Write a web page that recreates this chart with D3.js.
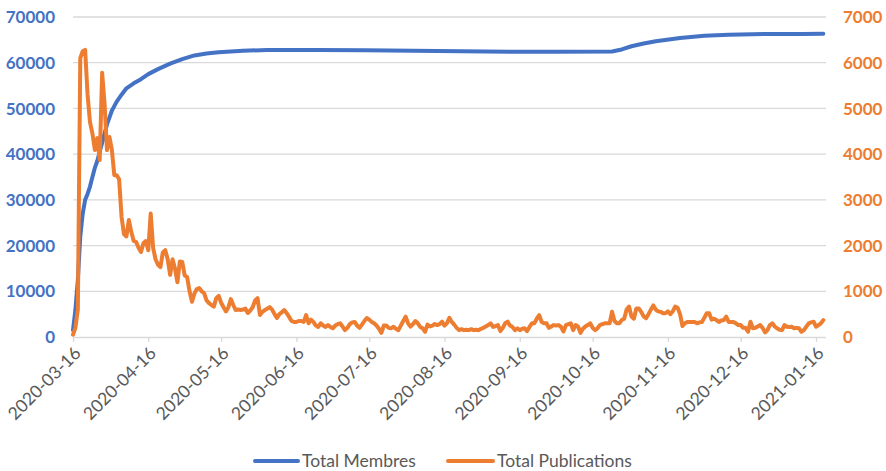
<!DOCTYPE html>
<html><head><meta charset="utf-8">
<script src="https://cdn.jsdelivr.net/npm/d3@7"></script>
<style>
body{margin:0;background:#fff}
svg{display:block}
text{font-family:Lato,"Open Sans",sans-serif}
</style>
</head><body>
<svg id="chart" width="886" height="471"></svg>
<script>
// ---- data ----
const pubStart = "2020-03-16"; // daily values from this date
const publications = [
  50, 200, 600, 6100, 6250, 6280, 5300, 4700, 4450, 4090,
  4350, 3870, 5780, 5100, 4090, 4375, 4100, 3540, 3540, 3450,
  2625, 2250, 2200, 2560, 2300, 2100, 2080, 1950, 1860, 2050,
  2100, 1900, 2700, 1950, 1700, 1580, 1530, 1850, 1900, 1700,
  1360, 1700, 1500, 1200, 1650, 1640, 1350, 1310, 1000, 770,
  950, 1050, 1070, 1000, 960, 800, 740, 700, 665, 850,
  900, 750, 650, 560, 650, 830, 700, 590, 600, 590,
  600, 620, 525, 580, 650, 800, 850, 480, 550, 590,
  620, 655, 600, 500, 415, 500, 540, 590, 520, 440,
  350, 330, 330, 350, 350, 330, 480, 300, 380, 330,
  250, 220, 300, 250, 220, 260, 220, 190, 250, 280,
  300, 230, 150, 200, 280, 320, 330, 250, 200, 270,
  350, 415, 380, 330, 300, 250, 180, 90, 250, 250,
  200, 190, 225, 180, 150, 250, 350, 445, 300, 225,
  280, 350, 300, 220, 190, 115, 270, 230, 250, 285,
  260, 280, 335, 250, 300, 420, 330, 270, 200, 150,
  170, 150, 160, 150, 170, 150, 160, 150, 180, 200,
  230, 260, 300, 220, 240, 260, 130, 200, 300, 335,
  250, 220, 150, 190, 150, 180, 190, 130, 220, 300,
  300, 400, 480, 330, 300, 300, 200, 230, 260, 250,
  260, 220, 120, 260, 280, 300, 150, 260, 230, 90,
  180, 230, 260, 300, 200, 150, 190, 260, 280, 300,
  300, 300, 555, 350, 300, 300, 370, 400, 600, 665,
  450, 400, 625, 625, 550, 450, 410, 500, 600, 690,
  600, 560, 550, 520, 520, 560, 500, 560, 665, 640,
  500, 240, 300, 330, 330, 330, 330, 300, 320, 330,
  420, 520, 520, 380, 400, 370, 330, 360, 370, 445,
  330, 330, 330, 300, 260, 260, 200, 200, 115, 335,
  190, 200, 230, 260, 200, 100, 150, 260, 300, 230,
  190, 160, 150, 260, 225, 220, 225, 190, 200, 190,
  115, 150, 225, 300, 320, 335, 225, 260, 300, 370
];
const memberDates = [
  "2020-03-16","2020-03-17","2020-03-18","2020-03-19","2020-03-20","2020-03-21",
  "2020-03-22","2020-03-23","2020-03-24","2020-03-25","2020-03-26","2020-03-27",
  "2020-03-28","2020-03-29","2020-03-30","2020-03-31","2020-04-01","2020-04-02",
  "2020-04-03","2020-04-05","2020-04-07","2020-04-10","2020-04-13","2020-04-16",
  "2020-04-20","2020-04-25","2020-04-30","2020-05-05","2020-05-10","2020-05-15",
  "2020-05-25","2020-06-04","2020-06-24","2020-07-14","2020-08-03","2020-08-23",
  "2020-09-12","2020-10-02","2020-10-24","2020-10-28","2020-11-01","2020-11-06",
  "2020-11-11","2020-11-21","2020-12-01","2020-12-11","2020-12-21","2021-01-10",
  "2021-01-19"
];
const members = [
  1500, 6000, 12500, 22000, 27000, 30000,
  31300, 32900, 35000, 37000, 38500, 40500,
  42500, 44500, 46500, 48000, 49500, 50500,
  51500, 53000, 54400, 55500, 56400, 57500,
  58600, 59800, 60800, 61600, 62000, 62300,
  62600, 62800, 62800, 62700, 62600, 62500,
  62400, 62400, 62450, 62900, 63600, 64200,
  64700, 65400, 65900, 66100, 66250, 66300,
  66350
];
const xTickLabels = ["2020-03-16","2020-04-16","2020-05-16","2020-06-16","2020-07-16",
  "2020-08-16","2020-09-16","2020-10-16","2020-11-16","2020-12-16","2021-01-16"];
const leftTicks = [0, 10000, 20000, 30000, 40000, 50000, 60000, 70000];
const rightTicks = [0, 1000, 2000, 3000, 4000, 5000, 6000, 7000];
const seriesNames = ["Total Membres", "Total Publications"];
const xEnd = "2021-01-19";

// ---- chart ----
const BLUE = "#4472C4", ORANGE = "#ED7D31", GRID = "#d9d9d9", TXT = "#595959";
const parse = d3.utcParse("%Y-%m-%d");
const svg = d3.select("#chart");
const L = 73, R = 826, T = 17, B = 337;

const x = d3.scaleUtc().domain([parse(pubStart), parse(xEnd)]).range([L, 823.3]);
const yL = d3.scaleLinear().domain([0, 70000]).range([B, T]);
const yR = d3.scaleLinear().domain([0, 7000]).range([B, T]);

const pubData = publications.map((v, i) => ({d: d3.utcDay.offset(parse(pubStart), i), v}));
const memData = memberDates.map((s, i) => ({d: parse(s), v: members[i]}));

// gridlines
svg.append("g").selectAll("line").data(leftTicks.filter(v => v > 0)).join("line")
  .attr("x1", L).attr("x2", R).attr("y1", d => yL(d)).attr("y2", d => yL(d))
  .attr("stroke", GRID).attr("stroke-width", 1.3);

// x axis
const xAxis = d3.axisBottom(x)
  .tickValues(xTickLabels.map(parse))
  .tickFormat(d3.utcFormat("%Y-%m-%d"))
  .tickSize(5).tickSizeOuter(0);
const gx = svg.append("g").attr("transform", `translate(0,${B})`).call(xAxis);
gx.select(".domain").attr("d", `M${L},0.5H${R}`).attr("stroke", GRID).attr("stroke-width", 1.3);
gx.selectAll(".tick line").attr("stroke", GRID).attr("stroke-width", 1.3);
gx.selectAll(".tick text")
  .attr("x", 0).attr("y", 0).attr("dy", "0.35em")
  .attr("transform", "translate(4,13) rotate(-45)")
  .attr("text-anchor", "end")
  .attr("fill", TXT)
  .style("font-size", "17.5px")
  .style("font-family", "Lato, 'Open Sans', sans-serif");

// left axis labels
svg.append("g").selectAll("text").data(leftTicks).join("text")
  .attr("x", 55).attr("y", d => yL(d)).attr("dy", "0.36em")
  .attr("text-anchor", "end").attr("fill", BLUE)
  .style("font-size", "17px").style("font-weight", "bold")
  .text(d => d);

// right axis labels
svg.append("g").selectAll("text").data(rightTicks).join("text")
  .attr("x", 843).attr("y", d => yR(d)).attr("dy", "0.36em")
  .attr("text-anchor", "start").attr("fill", ORANGE)
  .style("font-size", "17px").style("font-weight", "bold")
  .text(d => d);

// lines
const lineM = d3.line().x(d => x(d.d)).y(d => yL(d.v));
const lineP = d3.line().x(d => x(d.d)).y(d => yR(d.v));
svg.append("path").datum(memData).attr("d", lineM)
  .attr("fill", "none").attr("stroke", BLUE).attr("stroke-width", 4)
  .attr("stroke-linejoin", "round").attr("stroke-linecap", "round");
svg.append("path").datum(pubData).attr("d", lineP)
  .attr("fill", "none").attr("stroke", ORANGE).attr("stroke-width", 4)
  .attr("stroke-linejoin", "round").attr("stroke-linecap", "round");

// legend
const legend = [
  {name: seriesNames[0], color: BLUE, x1: 255, x2: 298, tx: 302},
  {name: seriesNames[1], color: ORANGE, x1: 448, x2: 493, tx: 497}
];
const lg = svg.append("g");
legend.forEach(l => {
  lg.append("line").attr("x1", l.x1).attr("x2", l.x2).attr("y1", 461).attr("y2", 461)
    .attr("stroke", l.color).attr("stroke-width", 4).attr("stroke-linecap", "round");
  lg.append("text").attr("x", l.tx).attr("y", 461).attr("dy", "0.35em")
    .attr("fill", TXT).style("font-size", "17.5px").text(l.name);
});
</script>
</body></html>
